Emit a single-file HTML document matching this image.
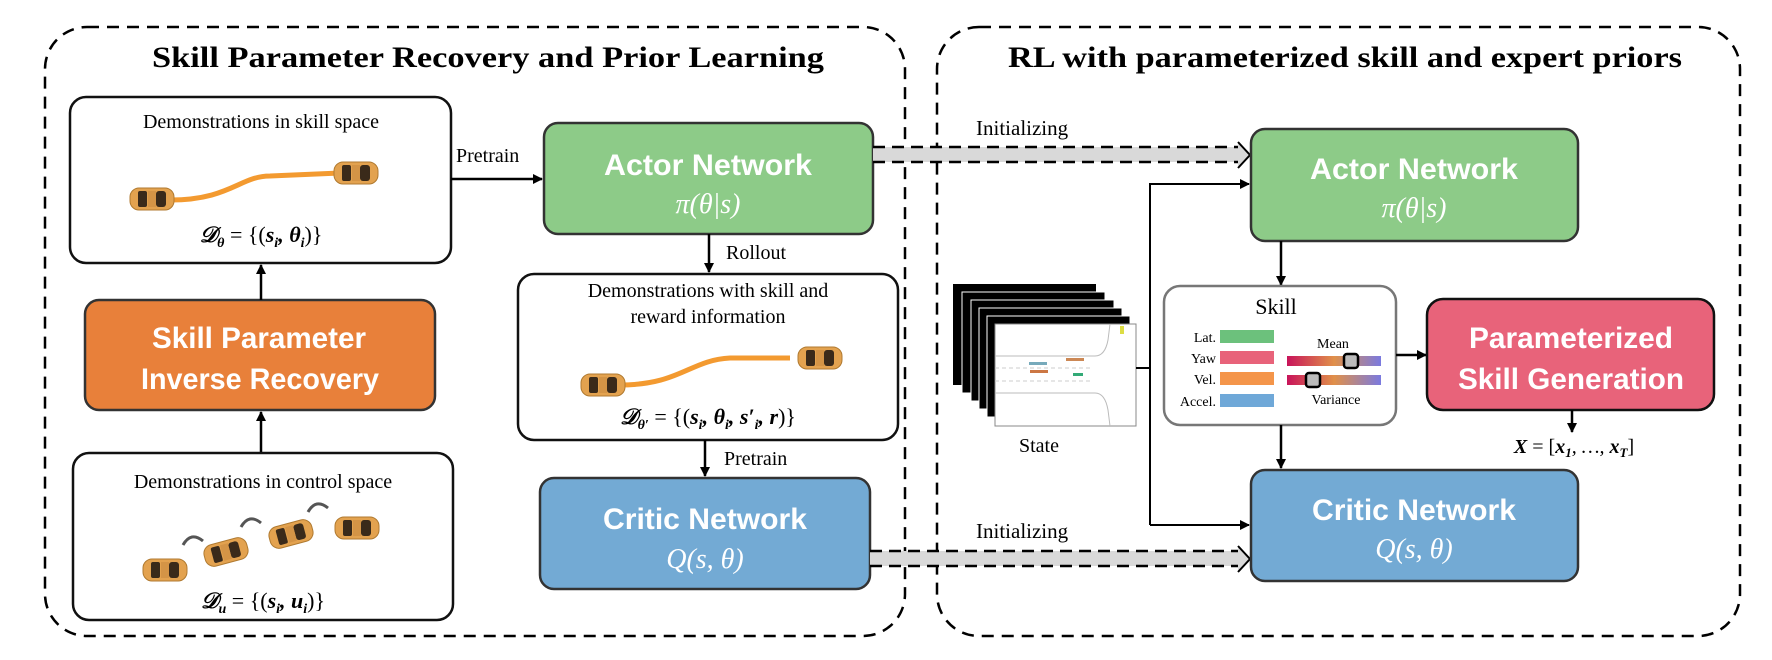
<!DOCTYPE html>
<html><head><meta charset="utf-8"><style>
body{margin:0;background:#fff}
svg{display:block}
.serif{font-family:"Liberation Serif",serif}
.nar{font-family:"Liberation Sans",sans-serif;font-weight:bold;fill:#fff}
</style></head><body>
<svg width="1772" height="660" viewBox="0 0 1772 660" xmlns="http://www.w3.org/2000/svg">
<defs>
<marker id="ah" markerWidth="10" markerHeight="10" refX="9" refY="5" orient="auto" markerUnits="userSpaceOnUse"><path d="M0,0 L10,5 L0,10 z" fill="#000"/></marker>
<linearGradient id="gb" x1="0" x2="1"><stop offset="0" stop-color="#c8145a"/><stop offset="0.5" stop-color="#e0904a"/><stop offset="1" stop-color="#7a7ae0"/></linearGradient>
<g id="car"><rect x="-22" y="-11" width="44" height="22" rx="9" fill="#e3a24f" stroke="#b07a30" stroke-width="1"/><rect x="-14" y="-8" width="9" height="16" rx="2" fill="#3a2a1a"/><rect x="4" y="-8" width="10" height="16" rx="3" fill="#3a2a1a"/><rect x="-4" y="-8" width="8" height="16" fill="#d49446"/></g>
</defs>

<rect x="45" y="27" width="860" height="609" rx="42" fill="none" stroke="#000" stroke-width="2.5" stroke-dasharray="12,8"/>
<rect x="937" y="27" width="803" height="609" rx="42" fill="none" stroke="#000" stroke-width="2.5" stroke-dasharray="12,8"/>
<text x="488" y="67" text-anchor="middle" class="serif" font-weight="bold" font-size="30" textLength="672" lengthAdjust="spacingAndGlyphs">Skill Parameter Recovery and Prior Learning</text>
<text x="1345" y="67" text-anchor="middle" class="serif" font-weight="bold" font-size="30" textLength="674" lengthAdjust="spacingAndGlyphs">RL with parameterized skill and expert priors</text>

<rect x="70" y="97" width="381" height="166" rx="16" fill="#fff" stroke="#111" stroke-width="2.5"/>
<text x="261" y="128" text-anchor="middle" class="serif" font-size="20">Demonstrations in skill space</text>
<path d="M170,200 C230,200 240,176 270,176 L340,173" fill="none" stroke="#f39a30" stroke-width="5"/>
<use href="#car" x="152" y="199"/>
<use href="#car" x="356" y="173"/>
<text x="261" y="242" text-anchor="middle" class="serif" font-size="22" font-weight="bold" font-style="italic">𝒟<tspan font-size="14" dy="5">θ</tspan><tspan dy="-5" font-weight="normal" font-style="normal"> = {(</tspan>s<tspan font-size="14" dy="5">i</tspan><tspan dy="-5">, θ</tspan><tspan font-size="14" dy="5">i</tspan><tspan dy="-5" font-weight="normal" font-style="normal">)}</tspan></text>

<rect x="85" y="300" width="350" height="110" rx="14" fill="#e8803a" stroke="#333" stroke-width="2.5"/>
<text x="259" y="348" text-anchor="middle" class="nar" font-size="30" textLength="214" lengthAdjust="spacingAndGlyphs">Skill Parameter</text>
<text x="260" y="389" text-anchor="middle" class="nar" font-size="30" textLength="238" lengthAdjust="spacingAndGlyphs">Inverse Recovery</text>
<line x1="261" y1="300" x2="261" y2="265" stroke="#000" stroke-width="2.5" marker-end="url(#ah)"/>
<line x1="261" y1="452" x2="261" y2="412" stroke="#000" stroke-width="2.5" marker-end="url(#ah)"/>

<rect x="73" y="453" width="380" height="167" rx="16" fill="#fff" stroke="#111" stroke-width="2.5"/>
<text x="263" y="488" text-anchor="middle" class="serif" font-size="20">Demonstrations in control space</text>
<use href="#car" x="165" y="570"/>
<use href="#car" x="226" y="552" transform="rotate(-15 226 552)"/>
<use href="#car" x="291" y="534" transform="rotate(-15 291 534)"/>
<use href="#car" x="357" y="528"/>
<path d="M183,545 q8,-14 20,-4 M241,527 q8,-14 20,-4 M308,512 q8,-14 20,-4" fill="none" stroke="#555" stroke-width="3"/>
<text x="263" y="608" text-anchor="middle" class="serif" font-size="22" font-weight="bold" font-style="italic">𝒟<tspan font-size="14" dy="5">u</tspan><tspan dy="-5" font-weight="normal" font-style="normal"> = {(</tspan>s<tspan font-size="14" dy="5">i</tspan><tspan dy="-5">, u</tspan><tspan font-size="14" dy="5">i</tspan><tspan dy="-5" font-weight="normal" font-style="normal">)}</tspan></text>

<line x1="451" y1="179" x2="542" y2="179" stroke="#000" stroke-width="2.5" marker-end="url(#ah)"/>
<text x="456" y="162" class="serif" font-size="20">Pretrain</text>

<rect x="544" y="123" width="329" height="111" rx="14" fill="#8dcb88" stroke="#333" stroke-width="2.5"/>
<text x="708" y="175" text-anchor="middle" class="nar" font-size="30" textLength="208" lengthAdjust="spacingAndGlyphs">Actor Network</text>
<text x="708" y="213" text-anchor="middle" class="serif" font-size="28" font-style="italic" fill="#fff">π(θ|s)</text>
<line x1="709" y1="234" x2="709" y2="272" stroke="#000" stroke-width="2.5" marker-end="url(#ah)"/>
<text x="726" y="259" class="serif" font-size="20">Rollout</text>

<rect x="518" y="274" width="380" height="166" rx="16" fill="#fff" stroke="#111" stroke-width="2.5"/>
<text x="708" y="297" text-anchor="middle" class="serif" font-size="20">Demonstrations with skill and</text>
<text x="708" y="323" text-anchor="middle" class="serif" font-size="20">reward information</text>
<path d="M620,385 C680,385 690,360 730,358 L790,358" fill="none" stroke="#f39a30" stroke-width="5"/>
<use href="#car" x="603" y="385"/>
<use href="#car" x="820" y="358"/>
<text x="708" y="424" text-anchor="middle" class="serif" font-size="22" font-weight="bold" font-style="italic">𝒟<tspan font-size="14" dy="5">θ′</tspan><tspan dy="-5" font-weight="normal" font-style="normal"> = {(</tspan>s<tspan font-size="14" dy="5">i</tspan><tspan dy="-5">, θ</tspan><tspan font-size="14" dy="5">i</tspan><tspan dy="-5">, s′</tspan><tspan font-size="14" dy="5">i</tspan><tspan dy="-5">, r</tspan><tspan font-weight="normal" font-style="normal">)}</tspan></text>
<line x1="705" y1="440" x2="705" y2="476" stroke="#000" stroke-width="2.5" marker-end="url(#ah)"/>
<text x="724" y="465" class="serif" font-size="20">Pretrain</text>

<rect x="540" y="478" width="330" height="111" rx="14" fill="#73aad4" stroke="#333" stroke-width="2.5"/>
<text x="705" y="529" text-anchor="middle" class="nar" font-size="30" textLength="204" lengthAdjust="spacingAndGlyphs">Critic Network</text>
<text x="705" y="568" text-anchor="middle" class="serif" font-size="28" font-style="italic" fill="#fff">Q(s, θ)</text>

<g>
<rect x="873" y="147" width="370" height="15" fill="#d9d9d9"/>
<path d="M873,147 L1238,147 M873,162 L1238,162" stroke="#000" stroke-width="2.5" stroke-dasharray="12,7"/>
<path d="M1238,142 L1250,155 L1238,168" fill="#d9d9d9" stroke="#000" stroke-width="2"/>
<text x="976" y="135" class="serif" font-size="21">Initializing</text>
<rect x="870" y="551" width="373" height="15" fill="#d9d9d9"/>
<path d="M870,551 L1238,551 M870,566 L1238,566" stroke="#000" stroke-width="2.5" stroke-dasharray="12,7"/>
<path d="M1238,546 L1250,559 L1238,572" fill="#d9d9d9" stroke="#000" stroke-width="2"/>
<text x="976" y="538" class="serif" font-size="21">Initializing</text>
</g>

<rect x="1251" y="129" width="327" height="112" rx="14" fill="#8dcb88" stroke="#333" stroke-width="2.5"/>
<text x="1414" y="179" text-anchor="middle" class="nar" font-size="30" textLength="208" lengthAdjust="spacingAndGlyphs">Actor Network</text>
<text x="1414" y="217" text-anchor="middle" class="serif" font-size="28" font-style="italic" fill="#fff">π(θ|s)</text>

<rect x="1251" y="470" width="327" height="111" rx="14" fill="#73aad4" stroke="#333" stroke-width="2.5"/>
<text x="1414" y="520" text-anchor="middle" class="nar" font-size="30" textLength="204" lengthAdjust="spacingAndGlyphs">Critic Network</text>
<text x="1414" y="558" text-anchor="middle" class="serif" font-size="28" font-style="italic" fill="#fff">Q(s, θ)</text>

<g>
<rect x="953" y="284" width="143" height="101" fill="#000"/>
<rect x="962" y="292" width="143" height="101" fill="#000" stroke="#fff" stroke-width="1"/>
<rect x="971" y="300" width="143" height="101" fill="#000" stroke="#fff" stroke-width="1"/>
<rect x="979" y="308" width="143" height="101" fill="#000" stroke="#fff" stroke-width="1"/>
<rect x="987" y="316" width="143" height="101" fill="#000" stroke="#fff" stroke-width="1"/>
<rect x="995" y="324" width="141" height="102" fill="#fff" stroke="#888" stroke-width="1"/>
<path d="M995,356 L1095,356 Q1105,356 1108,340 L1110,324 M995,393 L1095,393 Q1105,393 1108,410 L1110,426" fill="none" stroke="#bbb"/>
<path d="M995,368 L1090,368 M995,381 L1090,381" stroke="#ccc" stroke-dasharray="4,3"/>
<rect x="1029" y="362" width="18" height="3" fill="#7ab"/><rect x="1066" y="358" width="18" height="3" fill="#c85"/>
<rect x="1030" y="370" width="18" height="3" fill="#c74"/><rect x="1073" y="373" width="10" height="3" fill="#3a7"/>
<rect x="1120" y="326" width="4" height="8" fill="#dd4"/>
</g>
<text x="1039" y="452" text-anchor="middle" class="serif" font-size="20">State</text>
<polyline points="1136,368 1150,368" fill="none" stroke="#000" stroke-width="2"/>
<polyline points="1150,525 1150,184 1249,184" fill="none" stroke="#000" stroke-width="2" marker-end="url(#ah)"/>
<line x1="1150" y1="525" x2="1249" y2="525" stroke="#000" stroke-width="2" marker-end="url(#ah)"/>

<line x1="1281" y1="241" x2="1281" y2="285" stroke="#000" stroke-width="2.5" marker-end="url(#ah)"/>
<rect x="1164" y="286" width="232" height="139" rx="16" fill="#fff" stroke="#777" stroke-width="2.5"/>
<text x="1276" y="314" text-anchor="middle" class="serif" font-size="22">Skill</text>
<g class="serif" font-size="14" text-anchor="end">
<text x="1216" y="342">Lat.</text><text x="1216" y="363">Yaw</text><text x="1216" y="384">Vel.</text><text x="1216" y="406">Accel.</text></g>
<rect x="1220" y="330" width="54" height="13" fill="#6cc17c"/>
<rect x="1220" y="351" width="54" height="13" fill="#e8637a"/>
<rect x="1220" y="372" width="54" height="13" fill="#f4954a"/>
<rect x="1220" y="394" width="54" height="13" fill="#6fa8d8"/>
<text x="1333" y="348" text-anchor="middle" class="serif" font-size="14">Mean</text>
<rect x="1287" y="356" width="94" height="10" fill="url(#gb)"/>
<rect x="1287" y="375" width="94" height="10" fill="url(#gb)"/>
<rect x="1344" y="354" width="14" height="14" rx="3" fill="#bbb" stroke="#000" stroke-width="2.5"/>
<rect x="1306" y="373" width="14" height="14" rx="3" fill="#bbb" stroke="#000" stroke-width="2.5"/>
<text x="1336" y="404" text-anchor="middle" class="serif" font-size="14">Variance</text>
<line x1="1281" y1="425" x2="1281" y2="468" stroke="#000" stroke-width="2.5" marker-end="url(#ah)"/>
<line x1="1396" y1="355" x2="1426" y2="355" stroke="#000" stroke-width="2.5" marker-end="url(#ah)"/>

<rect x="1427" y="299" width="287" height="111" rx="16" fill="#e8637a" stroke="#111" stroke-width="2.5"/>
<text x="1571" y="348" text-anchor="middle" class="nar" font-size="30" textLength="204" lengthAdjust="spacingAndGlyphs">Parameterized</text>
<text x="1571" y="389" text-anchor="middle" class="nar" font-size="30" textLength="226" lengthAdjust="spacingAndGlyphs">Skill Generation</text>
<line x1="1572" y1="410" x2="1572" y2="432" stroke="#000" stroke-width="2.5" marker-end="url(#ah)"/>
<text x="1574" y="453" text-anchor="middle" class="serif" font-size="20" font-weight="bold" font-style="italic">X<tspan font-weight="normal" font-style="normal"> = [</tspan>x<tspan font-size="13" dy="4">1</tspan><tspan dy="-4" font-weight="normal">, …, </tspan>x<tspan font-size="13" dy="4">T</tspan><tspan dy="-4" font-weight="normal" font-style="normal">]</tspan></text>
</svg>
</body></html>
